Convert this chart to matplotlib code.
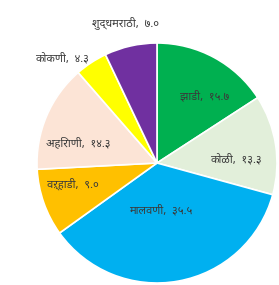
#!/usr/bin/env python3
"""Pie chart: share of each category (Marathi labels, Devanagari digits)."""
import matplotlib
matplotlib.use("Agg")
import matplotlib.pyplot as plt
import numpy as np

plt.rcParams["font.family"] = ["Noto Sans Devanagari", "Lohit Devanagari",
                               "Noto Sans", "DejaVu Sans"]

# data, clockwise from 12 o'clock
names = ["झाडी", "कोळी", "मालवणी", "वऱ्हाडी", "अहिराणी", "कोकणी", "शुद्धमराठी"]
values = [15.7, 13.3, 35.5, 9.0, 14.3, 4.3, 7.0]
colors = ["#00b050", "#e2efda", "#00b0f0", "#ffc000", "#fce4d6", "#ffff00", "#7030a0"]

# label placement: radius (fraction of R), clockwise shift (deg), alignment
label_r = [0.68, 0.66, 0.40, 0.72, 0.68, 1.04, 1.20]
label_shift = [7, 6, 6, 5, -9, 0, 0]
label_ha = ["center", "center", "center", "center", "center", "right", "center"]

DEV = str.maketrans("0123456789", "०१२३४५६७८९")


def dev(v):
    return f"{v:.1f}".translate(DEV)


fig = plt.figure(figsize=(2.79, 2.85), dpi=100)
W, H = 279, 285
cx, cy, R = 157, 163, 120
ax = fig.add_axes([(cx - R) / W, (H - cy - R) / H, 2 * R / W, 2 * R / H])

wedges, _ = ax.pie(values, colors=colors, startangle=90, counterclock=False,
                   wedgeprops=dict(edgecolor="white", linewidth=1.2))
ax.set_xlim(-1, 1)
ax.set_ylim(-1, 1)

for w, name, v, r, s, ha in zip(wedges, names, values, label_r, label_shift, label_ha):
    mid = np.deg2rad((w.theta1 + w.theta2) / 2 - s)
    ax.text(r * np.cos(mid), r * np.sin(mid), f"{name},  {dev(v)}",
            ha=ha, va="center", fontsize=8, color="#3a3a3a", clip_on=False)

fig.savefig("out.png", dpi=100, facecolor="white")
